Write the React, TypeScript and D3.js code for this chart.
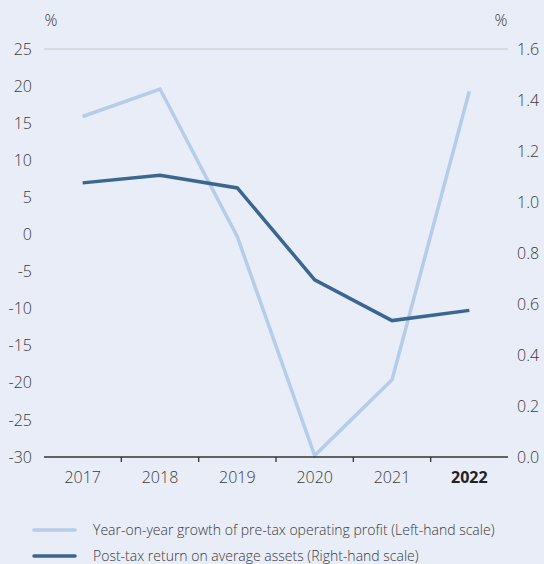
import React from "react";
import * as d3 from "d3";

const years = ["2017", "2018", "2019", "2020", "2021", "2022"];
const growth = [15.9, 19.6, -0.3, -29.8, -19.6, 19.3];
const roa = [1.075, 1.105, 1.055, 0.695, 0.535, 0.575];
const leftTicks = [25, 20, 15, 10, 5, 0, -5, -10, -15, -20, -25, -30];
const rightTicks = [1.6, 1.4, 1.2, 1.0, 0.8, 0.6, 0.4, 0.2, 0.0];
const legendLabels = [
  "Year-on-year growth of pre-tax operating profit (Left-hand scale)",
  "Post-tax return on average assets (Right-hand scale)",
];

const W = 544, H = 564;
const M = { left: 44, right: 508, top: 49, bottom: 457 };
const BG = "#E8EDF7";
const LIGHT = "#B5CDE8";
const DARK = "#3B6690";
const TEXT = "#3a3a3a";
const FONT = "'Open Sans', 'Noto Sans', sans-serif";

export default function App() {
  const x = d3.scaleBand().domain(years).range([M.left, M.right]);
  const yL = d3.scaleLinear().domain([-30, 25]).range([M.bottom, M.top]);
  const yR = d3.scaleLinear().domain([0, 1.6]).range([M.bottom, M.top]);
  const cx = (d: string) => (x(d) as number) + x.bandwidth() / 2;
  const lineL = d3.line<number>().x((_, i) => cx(years[i])).y((d) => yL(d));
  const lineR = d3.line<number>().x((_, i) => cx(years[i])).y((d) => yR(d));

  return (
    <svg width={W} height={H} style={{ position: "absolute", left: 0, top: 0, display: "block" }}>
      <rect x={0} y={0} width={W} height={H} fill={BG} />
      <line x1={M.left} x2={M.right} y1={yL(25)} y2={yL(25)} stroke="#D3D3D3" strokeWidth={1.3} />
      <text x={51} y={26} fontFamily={FONT} fontWeight={300} fontSize={16} fill={TEXT} textAnchor="middle">%</text>
      <text x={501} y={26} fontFamily={FONT} fontWeight={300} fontSize={16} fill={TEXT} textAnchor="middle">%</text>
      {leftTicks.map((t) => (
        <text key={"l" + t} x={32} y={yL(t)} dy="0.35em" textAnchor="end" fontFamily={FONT} fontWeight={300} fontSize={16} fill={TEXT}>
          {t}
        </text>
      ))}
      {rightTicks.map((t) => (
        <text key={"r" + t} x={517} y={yR(t)} dy="0.35em" textAnchor="start" fontFamily={FONT} fontWeight={300} fontSize={16} fill={TEXT}>
          {t.toFixed(1)}
        </text>
      ))}
      <path d={lineL(growth) || ""} fill="none" stroke={LIGHT} strokeWidth={3.5} strokeLinejoin="miter" />
      <path d={lineR(roa) || ""} fill="none" stroke={DARK} strokeWidth={3.5} strokeLinejoin="miter" />
      <line x1={M.left} x2={M.right} y1={M.bottom} y2={M.bottom} stroke="#333" strokeWidth={1.5} />
      {years.slice(1).map((yr) => (
        <line key={"t" + yr} x1={x(yr)} x2={x(yr)} y1={M.bottom} y2={M.bottom + 5} stroke="#333" strokeWidth={1.3} />
      ))}
      {years.map((yr, i) => (
        <text key={"x" + yr} x={cx(yr)} y={M.bottom + 26} textAnchor="middle" fontFamily={FONT} fontWeight={i === years.length - 1 ? 700 : 300} fontSize={16} fill={i === years.length - 1 ? "#222" : TEXT}>
          {yr}
        </text>
      ))}
      {legendLabels.map((lab, i) => (
        <g key={lab} transform={`translate(0, ${530 + i * 26})`}>
          <line x1={34} x2={75} y1={0} y2={0} stroke={i === 0 ? LIGHT : DARK} strokeWidth={3.5} strokeLinecap="round" />
          <text x={93} y={0} dy="0.35em" fontFamily={FONT} fontWeight={300} fontSize={14} fill={TEXT}>
            {lab}
          </text>
        </g>
      ))}
    </svg>
  );
}
